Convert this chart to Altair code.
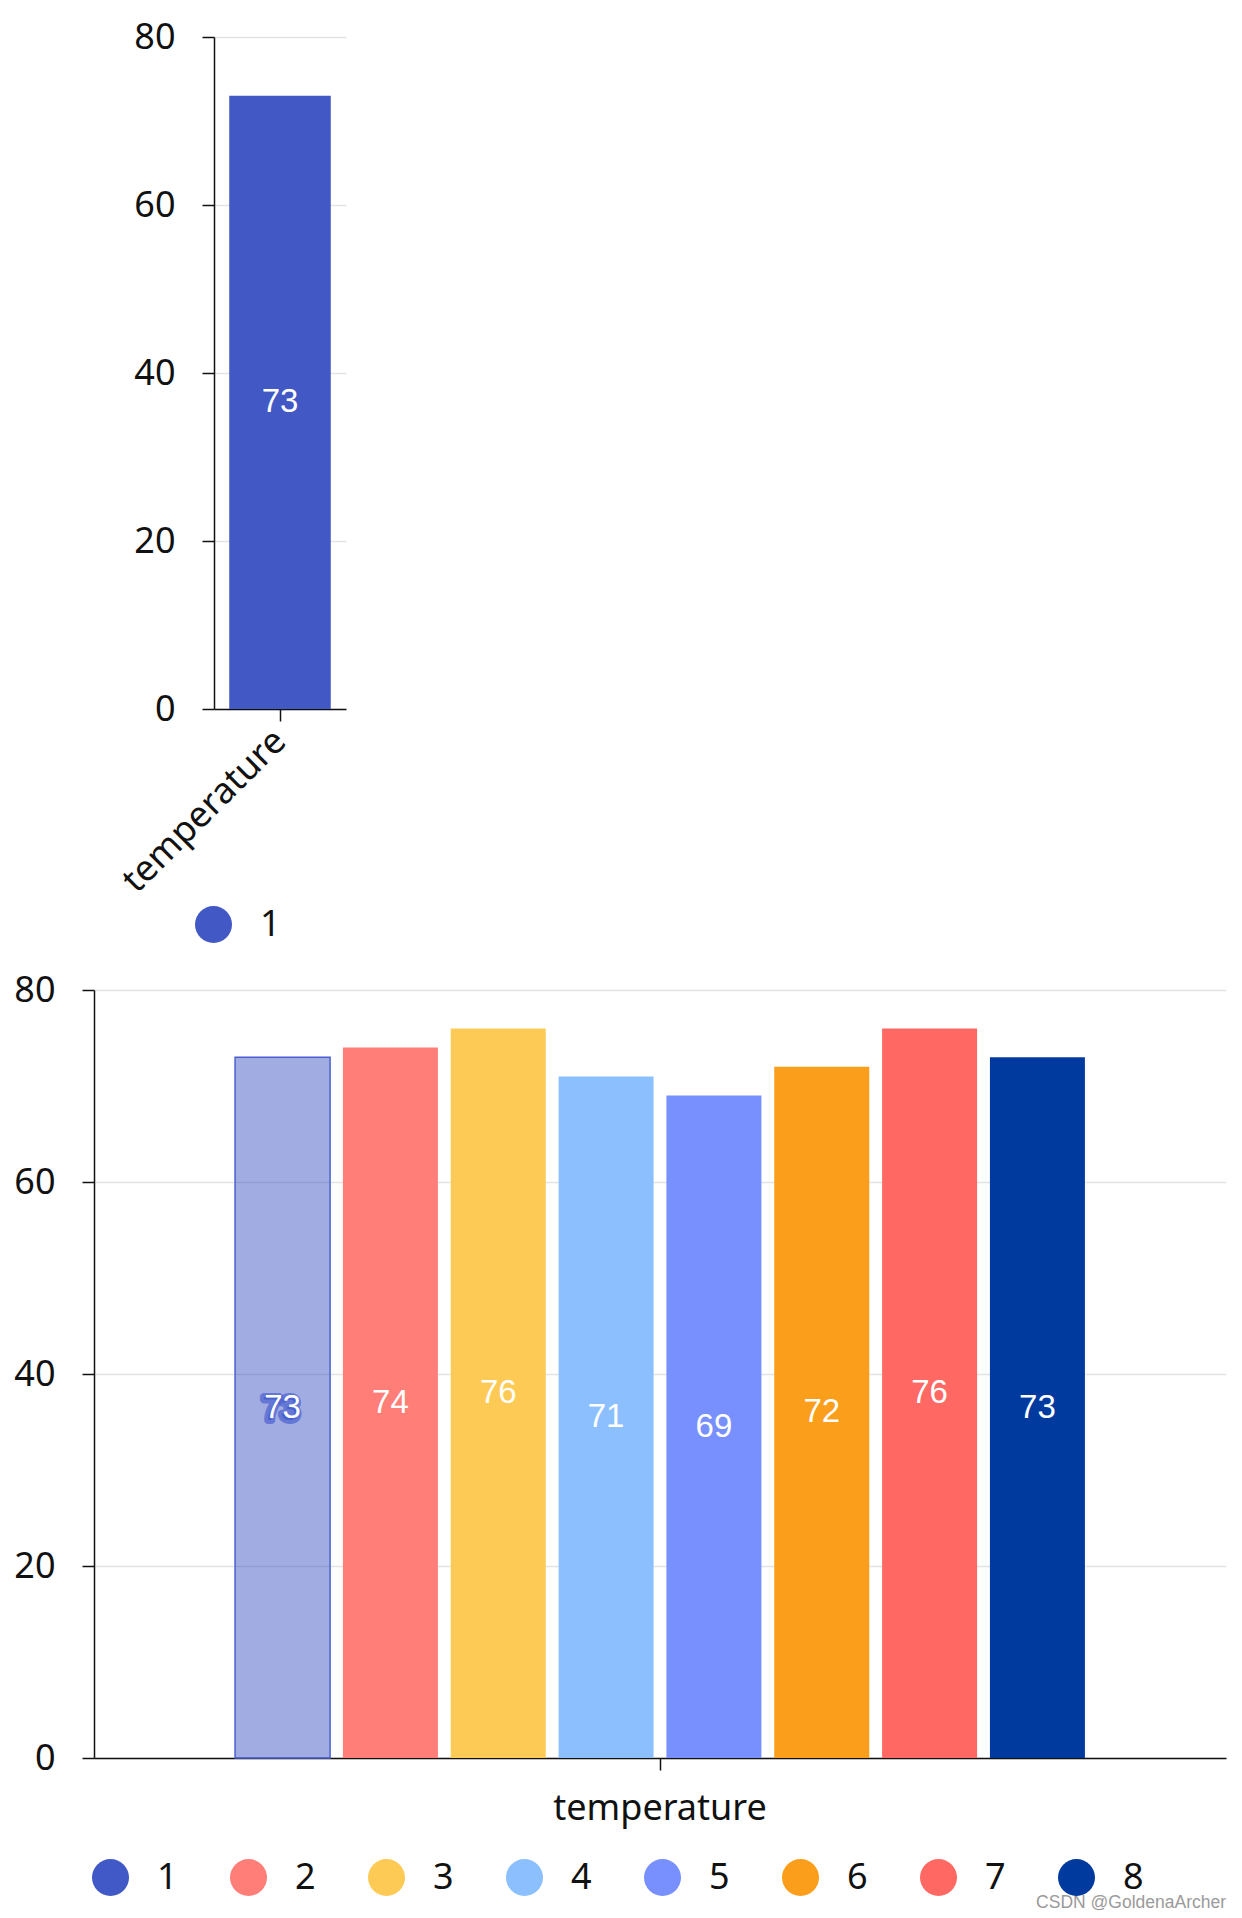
import altair as alt
import pandas as pd

# ---------------- data ----------------
category = "temperature"
series = ["1", "2", "3", "4", "5", "6", "7", "8"]
temps = [73, 74, 76, 71, 69, 72, 76, 73]
colors = ["#4159C6", "#FF7E78", "#FDCB55", "#8BBFFE", "#7890FD", "#FA9E1B", "#FF6863", "#003A9E"]

top_series = ["1"]
top_values = [73]
top_colors = ["#4258C5"]

y_ticks = [0, 20, 40, 60, 80]
watermark = "CSDN @GoldenaArcher"

df_top = pd.DataFrame({"key": category, "series": top_series, "value": top_values})
df_all = pd.DataFrame({"key": category, "series": series, "value": temps})
df_wm = pd.DataFrame({"t": [watermark]})
df_blank = pd.DataFrame({"t": [""]})

AX_FONT = "Noto Sans"
LBL_FONT = "Liberation Sans"
INK = "#111111"


def legend(x, y):
    return alt.Legend(
        orient="none", legendX=x, legendY=y, direction="horizontal", title=None,
        symbolType="circle", symbolSize=1369, symbolStrokeWidth=0, symbolOpacity=1,
        labelFont=AX_FONT, labelFontSize=36, labelColor=INK, labelOffset=28,
        padding=0, columnPadding=52, gridAlign="all",
    )


# ---------------- top chart ----------------
y_scale_top = alt.Scale(domain=[0, 80], nice=False)
y_axis_top = alt.Axis(values=y_ticks, title=None, grid=True)

base_top = alt.Chart(df_top).encode(
    x=alt.X("key:N", scale=alt.Scale(paddingInner=0, paddingOuter=0.15),
            axis=alt.Axis(title=None, labelAngle=-45, labelBaseline="middle",
                          labelPadding=14)),
)
bar_top = base_top.mark_bar().encode(
    y=alt.Y("value:Q", scale=y_scale_top, axis=y_axis_top),
    color=alt.Color("series:N", scale=alt.Scale(domain=top_series, range=top_colors),
                    legend=legend(101, 869)),
)
text_top = base_top.transform_calculate(mid="datum.value / 2").mark_text(
    font=LBL_FONT, fontSize=33, color="white", baseline="middle"
).encode(
    y=alt.Y("mid:Q", scale=y_scale_top, axis=y_axis_top),
    text="value:Q",
)
top = alt.layer(bar_top, text_top).properties(width=132, height=672)

# invisible spacer that shifts the small chart to the right
spacer = alt.Chart(df_blank).mark_text(opacity=0).encode(
    x=alt.value(0), y=alt.value(0), text="t:N"
).properties(width=120, height=10)

top_row = alt.hconcat(spacer, top, spacing=0, bounds="flush")

# ---------------- bottom chart ----------------
y_scale_bot = alt.Scale(domain=[0, 80], nice=False)
y_axis_bot = alt.Axis(values=y_ticks, title=None, grid=True)
is_one = "datum.series == '1'"

base_bot = alt.Chart(df_all).encode(
    x=alt.X("key:N", scale=alt.Scale(paddingInner=0, paddingOuter=0.166),
            axis=alt.Axis(title=None, labelAngle=0, labelPadding=21)),
    xOffset=alt.XOffset("series:N", sort=series,
                        scale=alt.Scale(paddingInner=0.119, paddingOuter=0)),
)
bar_bot = base_bot.mark_bar(stroke="#4a60cf").encode(
    y=alt.Y("value:Q", scale=y_scale_bot, axis=y_axis_bot),
    color=alt.Color("series:N", sort=series,
                    scale=alt.Scale(domain=series, range=colors),
                    legend=legend(-2, 869)),
    fillOpacity=alt.condition(is_one, alt.value(0.5), alt.value(1)),
    strokeWidth=alt.condition(is_one, alt.value(1.5), alt.value(0)),
)
halo_bot = base_bot.transform_filter(is_one).transform_calculate(
    mid="datum.value / 2"
).mark_text(
    font=LBL_FONT, fontSize=33, color="#4a60cf", stroke="#4a60cf", strokeWidth=8,
    strokeOpacity=0.7, strokeJoin="round", baseline="middle", dx=-2, dy=2,
).encode(
    y=alt.Y("mid:Q", scale=y_scale_bot, axis=y_axis_bot),
    text="value:Q",
)
text_bot = base_bot.transform_calculate(mid="datum.value / 2").mark_text(
    font=LBL_FONT, fontSize=33, color="white", baseline="middle"
).encode(
    y=alt.Y("mid:Q", scale=y_scale_bot, axis=y_axis_bot),
    text="value:Q",
)
wm = alt.Chart(df_wm).mark_text(
    font=LBL_FONT, fontSize=17.5, color="#9a9a9a", align="right", baseline="alphabetic"
).encode(x=alt.value(1132), y=alt.value(918), text="t:N")

bottom = alt.layer(bar_bot, halo_bot, text_bot, wm).properties(width=1132, height=768)

chart = alt.vconcat(top_row, bottom, spacing=29).resolve_scale(
    color="independent", x="independent", y="independent", xOffset="independent"
).resolve_legend(color="independent").properties(
    padding={"left": 5, "top": 11, "right": 5, "bottom": 0}
).configure_view(stroke=None).configure_axis(
    labelFont=AX_FONT, labelFontSize=36, labelColor=INK, labelLimit=0,
    domainColor=INK, domainWidth=1.5, tickColor=INK, tickSize=12, tickWidth=1.5,
    gridColor="#e3e3e3", gridWidth=1.5,
).configure_axisY(labelPadding=27)

chart.save("out.html", embed_options={"renderer": "svg", "actions": False})
